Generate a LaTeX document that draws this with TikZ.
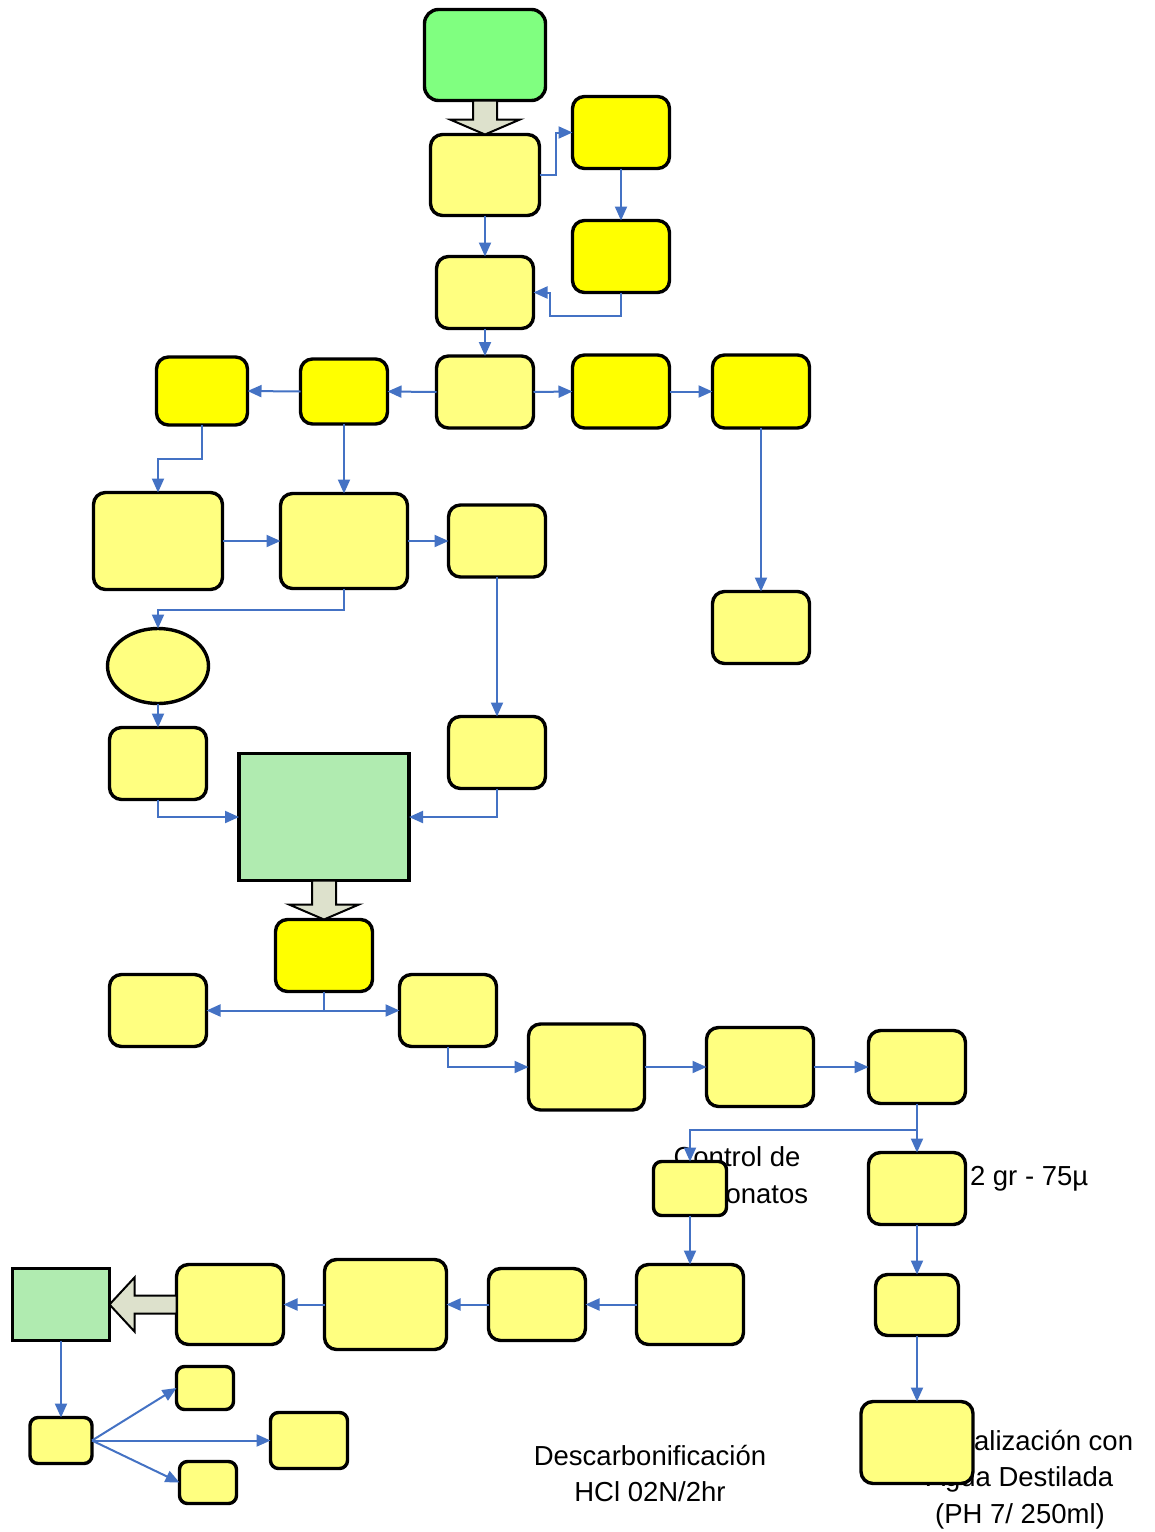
\documentclass[tikz,border=0pt]{standalone}
\usepackage{fontspec}
\setmainfont{Liberation Sans}
\usepackage{tikz}
\usetikzlibrary{arrows.meta,positioning,shapes.geometric,calc}
\usepackage{xcolor}
\definecolor{nodeltyellow}{HTML}{FFFF80}
\definecolor{nodeyellow}{HTML}{FFFF00}
\definecolor{nodegreen}{HTML}{80FF80}
\definecolor{nodepale}{HTML}{B0EBB0}
\definecolor{arrowgrey}{HTML}{DDE1CC}
\definecolor{lineblue}{HTML}{4472C4}

\begin{document}
\begin{tikzpicture}[
  x=1pt, y=-1pt,
  every node/.style={inner sep=0pt, outer sep=0pt},
  sz/.style 2 args={minimum width=#1, minimum height=#2},
  box/.style={draw, line width=3.4pt, rounded corners=12pt, fill=nodeltyellow},
  hibox/.style={box, fill=nodeyellow},
  smallbox/.style={box, rounded corners=8pt},
  rectbox/.style={draw, line width=3.4pt, fill=nodepale},
  txt/.style={align=center, font=\fontsize{27.5}{36.5}\selectfont},
  arr/.style={-{Triangle[length=14pt, width=12pt]}, line width=2pt, draw=lineblue},
  fat/.style={draw, line width=2pt, fill=arrowgrey, line join=miter},
]
  \fill[white] (0,0) rectangle (1155,1532);
  \useasboundingbox (0,0) rectangle (1155,1532);

  % Notes (drawn first, the boxes lie over them)
  \node[txt, anchor=north] (carb) at (737,1147) {Control de\\Carbonatos};
  \node[txt, anchor=base west] (grain) at (970,1185) {2 gr - 75µ};
  \node[txt, anchor=north] (descarb) at (650,1445) {Descarbonificación\\HCl 02N/2hr};
  \node[txt, anchor=north] (neutra) at (1020,1430) {Neutralización con\\Agua Destilada\\(PH 7/ 250ml)};

  % Upper part
  \node[box, fill=nodegreen, rounded corners=14pt, sz={121pt}{91pt}] (g1) at (485,55) {};
  \node[box, sz={109pt}{81pt}] (a) at (485,175) {};
  \node[hibox, sz={97pt}{72pt}] (y1) at (621,132.5) {};
  \node[hibox, sz={97pt}{72pt}] (y2) at (621,256.5) {};
  \node[box, sz={97pt}{72pt}] (b) at (485,292.5) {};
  \node[box, sz={97pt}{72pt}] (c) at (485,392) {};
  \node[hibox, sz={97pt}{73pt}] (y3) at (621,391.5) {};
  \node[hibox, sz={97pt}{73pt}] (y4) at (761,391.5) {};
  \node[hibox, sz={87pt}{65pt}] (y5) at (344,391.5) {};
  \node[hibox, sz={91pt}{68pt}] (y6) at (202,391) {};

  % Middle part
  \node[box, sz={129pt}{97pt}] (d) at (158,541) {};
  \node[box, sz={127pt}{95pt}] (e) at (344,541) {};
  \node[box, sz={97pt}{72pt}] (f) at (497,541) {};
  \node[box, sz={97pt}{72pt}] (g) at (761,627.5) {};
  \node[draw, line width=3.4pt, fill=nodeltyellow, ellipse, sz={101pt}{75pt}] (ell) at (158,666) {};
  \node[box, sz={97pt}{72pt}] (h) at (158,763.5) {};
  \node[rectbox, sz={170pt}{127pt}] (proc) at (324,817) {};
  \node[box, sz={97pt}{72pt}] (i) at (497,752.5) {};
  \node[hibox, sz={97pt}{72pt}] (y7) at (324,955.5) {};
  \node[box, sz={97pt}{72pt}] (j) at (158,1010.5) {};
  \node[box, sz={97pt}{72pt}] (k) at (448,1010.5) {};

  % Lower part
  \node[box, sz={116pt}{86pt}] (l) at (586.5,1067) {};
  \node[box, sz={107pt}{79pt}] (m) at (760,1067) {};
  \node[box, sz={97pt}{73pt}] (n) at (917,1067) {};
  \node[smallbox, sz={73pt}{54pt}] (o) at (690,1188.5) {};
  \node[box, sz={97pt}{72pt}] (p) at (917,1188.5) {};
  \node[box, sz={107pt}{80pt}] (q) at (690,1304.5) {};
  \node[box, sz={97pt}{72pt}] (r) at (537,1304.5) {};
  \node[box, sz={122pt}{90pt}] (s) at (385.5,1304.5) {};
  \node[box, sz={107pt}{80pt}] (t) at (230,1304.5) {};
  \node[rectbox, sz={97pt}{72pt}] (out) at (61,1304.5) {};
  \node[box, sz={83pt}{61pt}] (u) at (917,1305) {};
  \node[box, sz={112pt}{82pt}] (v) at (917,1442.5) {};
  \node[smallbox, sz={62pt}{46pt}] (w) at (61,1440.5) {};
  \node[smallbox, sz={57pt}{43pt}] (x1) at (205,1388) {};
  \node[smallbox, sz={77pt}{56pt}] (x2) at (309,1440.5) {};
  \node[smallbox, sz={57pt}{42pt}] (x3) at (208,1482.5) {};

  % Block arrows
  \draw[fat] ($(g1.south)+(-12,0)$) -- ($(a.north)+(-12,-15)$) -- ($(a.north)+(-35,-15)$) -- (a.north)
    -- ($(a.north)+(35,-15)$) -- ($(a.north)+(12,-15)$) -- ($(g1.south)+(12,0)$) -- cycle;
  \draw[fat] ($(proc.south)+(-12,0)$) -- ($(y7.north)+(-12,-15)$) -- ($(y7.north)+(-35,-15)$) -- (y7.north)
    -- ($(y7.north)+(35,-15)$) -- ($(y7.north)+(12,-15)$) -- ($(proc.south)+(12,0)$) -- cycle;
  \draw[fat] ($(t.west)+(0,-9)$) -- ($(out.east)+(25,-9)$) -- ($(out.east)+(25,-27)$) -- (out.east)
    -- ($(out.east)+(25,27)$) -- ($(out.east)+(25,9)$) -- ($(t.west)+(0,9)$) -- cycle;

  % Connectors
  \draw[arr] (a.east) -- ++(16,0) |- (y1.west);
  \draw[arr] (a.south) -- (b.north);
  \draw[arr] (y1.south) -- (y2.north);
  \draw[arr] (y2.south) |- ($(b.east)+(16,23)$) |- (b.east);
  \draw[arr] (b.south) -- (c.north);
  \draw[arr] (c.east) -- (y3.west);
  \draw[arr] (y3.east) -- (y4.west);
  \draw[arr] (c.west) -- (y5.east);
  \draw[arr] (y5.west) -- (y6.east);
  \draw[arr] (y6.south) -- ++(0,34) -| (d.north);
  \draw[arr] (y5.south) -- (e.north);
  \draw[arr] (d.east) -- (e.west);
  \draw[arr] (e.east) -- (f.west);
  \draw[arr] (e.south) -- ++(0,21) -| (ell.north);
  \draw[arr] (y4.south) -- (g.north);
  \draw[arr] (ell.south) -- (h.north);
  \draw[arr] (h.south) |- (proc.west);
  \draw[arr] (f.south) -- (i.north);
  \draw[arr] (i.south) |- (proc.east);
  \coordinate (split) at (y7.south |- j.east);
  \draw[line width=2pt, lineblue] (y7.south) -- (split);
  \draw[arr] (split) -- (j.east);
  \draw[arr] (split) -- (k.west);
  \draw[arr] (k.south) |- (l.west);
  \draw[arr] (l.east) -- (m.west);
  \draw[arr] (m.east) -- (n.west);
  \coordinate (nsplit) at ($(n.south)+(0,26)$);
  \draw[arr] (n.south) -- (p.north);
  \draw[arr] (nsplit) -| (o.north);
  \draw[arr] (o.south) -- (q.north);
  \draw[arr] (p.south) -- (u.north);
  \draw[arr] (u.south) -- (v.north);
  \draw[arr] (q.west) -- (r.east);
  \draw[arr] (r.west) -- (s.east);
  \draw[arr] (s.west) -- (t.east);
  \draw[arr] (out.south) -- (w.north);
  \draw[arr] (w.east) -- (x1.west);
  \draw[arr] (w.east) -- (x2.west);
  \draw[arr] (w.east) -- (x3.west);
\end{tikzpicture}
\end{document}
